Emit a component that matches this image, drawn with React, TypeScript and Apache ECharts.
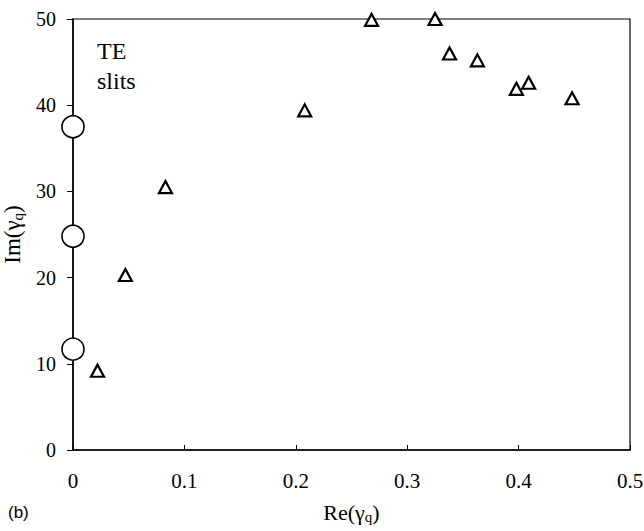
import React, { useEffect, useRef } from "react";
import * as echarts from "echarts";

const circleRe: number[] = [0, 0, 0];
const circleIm: number[] = [37.5, 24.8, 11.7];

const triRe: number[] = [0.022, 0.047, 0.083, 0.208, 0.268, 0.325, 0.338, 0.363, 0.398, 0.409, 0.448];
const triIm: number[] = [9.2, 20.3, 30.5, 39.4, 49.9, 50.0, 46.0, 45.2, 41.9, 42.6, 40.8];

const xTicks = { min: 0, max: 0.5, interval: 0.1 };
const yTicks = { min: 0, max: 50, interval: 10 };

const SERIF = "'Liberation Serif', 'Times New Roman', serif";

export default function App() {
  const ref = useRef<HTMLDivElement>(null);
  useEffect(() => {
    if (!ref.current) return;
    const chart = echarts.init(ref.current, undefined, { renderer: "svg" });
    const circles = circleRe.map((x, i) => [x, circleIm[i]]);
    const tris = triRe.map((x, i) => [x, triIm[i]]);
    chart.setOption({
      animation: false,
      backgroundColor: "#fff",
      grid: {
        left: 73,
        right: 14,
        top: 19,
        bottom: 81,
        containLabel: false,
        outerBoundsMode: "none",
        show: true,
        borderColor: "#000",
        borderWidth: 1.2,
      },
      xAxis: {
        type: "value",
        min: xTicks.min,
        max: xTicks.max,
        interval: xTicks.interval,
        axisLine: { show: true, lineStyle: { color: "#000", width: 1.5 } },
        axisTick: { show: true, inside: true, length: 5, lineStyle: { color: "#000" } },
        splitLine: { show: false },
        axisLabel: {
          color: "#000",
          fontFamily: SERIF,
          fontSize: 21,
          margin: 20,
          formatter: (v: number) => String(Math.round(v * 10) / 10),
        },
        name: "Re(γ{sub|q})",
        nameLocation: "middle",
        nameGap: 50,
        nameTextStyle: {
          color: "#000",
          fontFamily: SERIF,
          fontSize: 22,
          rich: {
            sub: { fontFamily: SERIF, fontSize: 15, color: "#000", padding: [9, 0, 0, 0] },
          },
        },
      },
      yAxis: {
        type: "value",
        min: yTicks.min,
        max: yTicks.max,
        interval: yTicks.interval,
        axisLine: { show: true, lineStyle: { color: "#000", width: 1.5 } },
        axisTick: { show: true, inside: false, length: 6, lineStyle: { color: "#000" } },
        splitLine: { show: false },
        axisLabel: {
          color: "#000",
          fontFamily: SERIF,
          fontSize: 20,
          margin: 17,
        },
        name: "Im(γ{sub|q})",
        nameLocation: "middle",
        nameGap: 42,
        nameTextStyle: {
          color: "#000",
          fontFamily: SERIF,
          fontSize: 23,
          rich: {
            sub: { fontFamily: SERIF, fontSize: 15, color: "#000", padding: [10, 0, 0, 0] },
          },
        },
      },
      graphic: [
        {
          type: "text",
          left: 97,
          top: 36,
          style: {
            text: "TE\nslits",
            fontFamily: SERIF,
            fontSize: 24,
            lineHeight: 30,
            fill: "#000",
          },
        },
        {
          type: "text",
          left: 8,
          top: 504,
          style: {
            text: "(b)",
            fontFamily: "'Liberation Sans', Arial, sans-serif",
            fontSize: 17,
            fill: "#000",
          },
        },
      ],
      series: [
        {
          type: "scatter",
          name: "circles",
          data: circles,
          symbol: "circle",
          symbolSize: 22,
          clip: false,
          itemStyle: { color: "#fff", borderColor: "#000", borderWidth: 1.6, opacity: 1 },
          z: 5,
        },
        {
          type: "scatter",
          name: "triangles",
          data: tris,
          symbol: "triangle",
          symbolSize: [13, 12],
          clip: false,
          itemStyle: { color: "#fff", borderColor: "#000", borderWidth: 2.2, opacity: 1 },
          z: 5,
        },
      ],
    });
    return () => chart.dispose();
  }, []);
  return (
    <div
      ref={ref}
      style={{ position: "absolute", left: 0, top: 0, width: 644, height: 531 }}
    />
  );
}
